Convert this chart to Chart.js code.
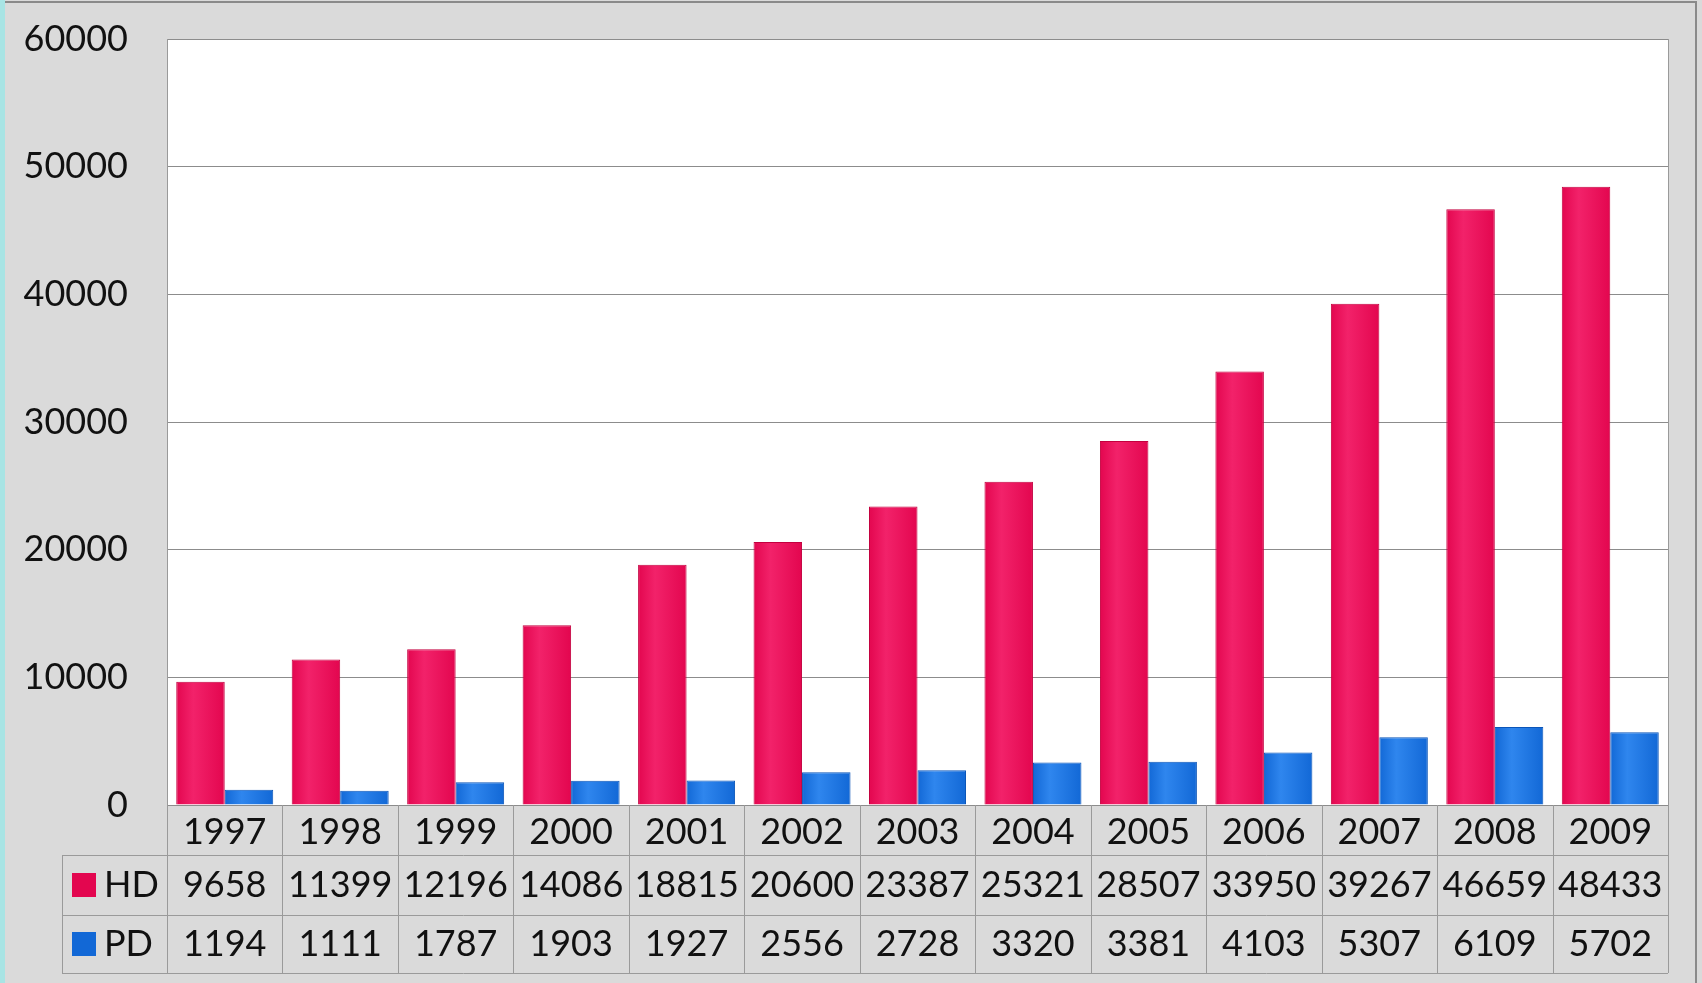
<!DOCTYPE html>
<html>
<head>
<meta charset="utf-8">
<script src="https://cdn.jsdelivr.net/npm/chart.js@4/dist/chart.umd.min.js"></script>
<style>
  html, body { margin: 0; padding: 0; background: #dadada; }
  #wrap { width: 1702px; height: 983px; }
</style>
</head>
<body>
<div id="wrap"><canvas id="chart" width="1702" height="983"></canvas></div>
<script>
const years = ["1997", "1998", "1999", "2000", "2001", "2002", "2003", "2004", "2005", "2006", "2007", "2008", "2009"];
const hdValues = [9658, 11399, 12196, 14086, 18815, 20600, 23387, 25321, 28507, 33950, 39267, 46659, 48433];
const pdValues = [1194, 1111, 1787, 1903, 1927, 2556, 2728, 3320, 3381, 4103, 5307, 6109, 5702];
const seriesNames = ["HD", "PD"];
const seriesColors = ["#e3064f", "#1268d6"];
const lightColors = ["#f2226a", "#2f86ee"];
const borderColors = ["#c3003f", "#0b55b8"];

const FONT = "Lato, 'DejaVu Sans', sans-serif";

// soft left-to-right shading on each bar
function barFill(d) {
  return (c) => {
    const chart = c.chart;
    const xs = chart.scales.x;
    if (!xs || !chart.chartArea || c.type !== "data") return seriesColors[d];
    const colW = (chart.chartArea.right - chart.chartArea.left) / years.length;
    const w = colW * 0.42;
    const cx = xs.getPixelForValue(c.dataIndex);
    const left = d === 0 ? cx - w : cx;
    const g = chart.ctx.createLinearGradient(left, 0, left + w, 0);
    g.addColorStop(0, seriesColors[d]);
    g.addColorStop(0.35, lightColors[d]);
    g.addColorStop(1, seriesColors[d]);
    return g;
  };
}

// backdrop, frame and white plot area
const frame = {
  id: "frame",
  beforeDraw(chart) {
    const { ctx, chartArea } = chart;
    ctx.save();
    ctx.fillStyle = "#dadada";
    ctx.fillRect(0, 0, chart.width, chart.height);
    ctx.fillStyle = "#a8e4e4";
    ctx.fillRect(0, 0, 5, chart.height);
    ctx.strokeStyle = "#8a8a8a";
    ctx.lineWidth = 2;
    ctx.beginPath();
    ctx.moveTo(5, 2); ctx.lineTo(1696, 2); ctx.lineTo(1696, chart.height);
    ctx.stroke();
    ctx.fillStyle = "#ffffff";
    ctx.fillRect(chartArea.left, chartArea.top, chartArea.right - chartArea.left, chartArea.bottom - chartArea.top);
    ctx.strokeStyle = "#9a9a9a";
    ctx.lineWidth = 1;
    ctx.strokeRect(chartArea.left + 0.5, chartArea.top + 0.5, chartArea.right - chartArea.left, chartArea.bottom - chartArea.top);
    ctx.restore();
  }
};

// data table under the axis
const dataTable = {
  id: "dataTable",
  afterDraw(chart) {
    const { ctx, chartArea, scales } = chart;
    const x = scales.x;
    const top = chartArea.bottom;
    const rowH = [50, 60, 58];
    const yearBottom = top + rowH[0];
    const tableLeft = 62;
    const tableBottom = yearBottom + rowH[1] + rowH[2];
    const colW = (chartArea.right - chartArea.left) / years.length;
    ctx.save();
    ctx.strokeStyle = "#9a9a9a";
    ctx.lineWidth = 1;
    ctx.beginPath();
    for (let i = 0; i <= years.length; i++) {
      const px = Math.round(chartArea.left + i * colW) + 0.5;
      ctx.moveTo(px, top); ctx.lineTo(px, tableBottom);
    }
    ctx.moveTo(tableLeft + 0.5, yearBottom); ctx.lineTo(tableLeft + 0.5, tableBottom);
    let y = yearBottom;
    for (let r = 1; r <= 2; r++) {
      ctx.moveTo(tableLeft, Math.round(y) + 0.5); ctx.lineTo(chartArea.right, Math.round(y) + 0.5);
      y += rowH[r];
    }
    ctx.moveTo(tableLeft, Math.round(y) + 0.5); ctx.lineTo(chartArea.right, Math.round(y) + 0.5);
    ctx.stroke();

    ctx.font = "36px " + FONT;
    ctx.textBaseline = "middle";
    let rowTop = yearBottom;
    chart.data.datasets.forEach((ds, d) => {
      const cy = rowTop + rowH[d + 1] / 2;
      ctx.fillStyle = seriesColors[d];
      ctx.fillRect(72, cy - 12, 24, 24);
      ctx.fillStyle = "#111";
      ctx.textAlign = "left";
      ctx.fillText(seriesNames[d], 104, cy);
      ctx.textAlign = "center";
      ds.data.forEach((v, i) => {
        ctx.fillText(String(v), x.getPixelForValue(i), cy);
      });
      rowTop += rowH[d + 1];
    });
    ctx.restore();
  }
};

new Chart(document.getElementById("chart"), {
  type: "bar",
  data: {
    labels: years,
    datasets: [
      { label: seriesNames[0], data: hdValues, backgroundColor: barFill(0), borderColor: borderColors[0], borderWidth: 1 },
      { label: seriesNames[1], data: pdValues, backgroundColor: barFill(1), borderColor: borderColors[1], borderWidth: 1 }
    ]
  },
  options: {
    responsive: false,
    animation: false,
    layout: { padding: { top: 39, right: 34, left: 0, bottom: 0 } },
    categoryPercentage: 0.84,
    barPercentage: 1,
    plugins: {
      legend: { display: false },
      tooltip: { enabled: false }
    },
    scales: {
      x: {
        grid: { display: false, drawTicks: false },
        border: { display: false },
        ticks: { color: "#111", font: { family: FONT, size: 36 }, padding: 6, maxRotation: 0 },
        afterFit(scale) { scale.height = 178; }
      },
      y: {
        min: 0,
        max: 60000,
        ticks: { stepSize: 10000, color: "#111", font: { family: FONT, size: 36 }, padding: 39, callback: (v) => String(v) },
        grid: { color: "#8c8c8c", lineWidth: 1, drawTicks: false },
        border: { display: true, color: "#9a9a9a" },
        afterFit(scale) {
          scale.width = 167;
          scale.paddingTop = 0;
          scale.paddingBottom = 0;
        }
      }
    }
  },
  plugins: [frame, dataTable]
});
</script>
</body>
</html>
